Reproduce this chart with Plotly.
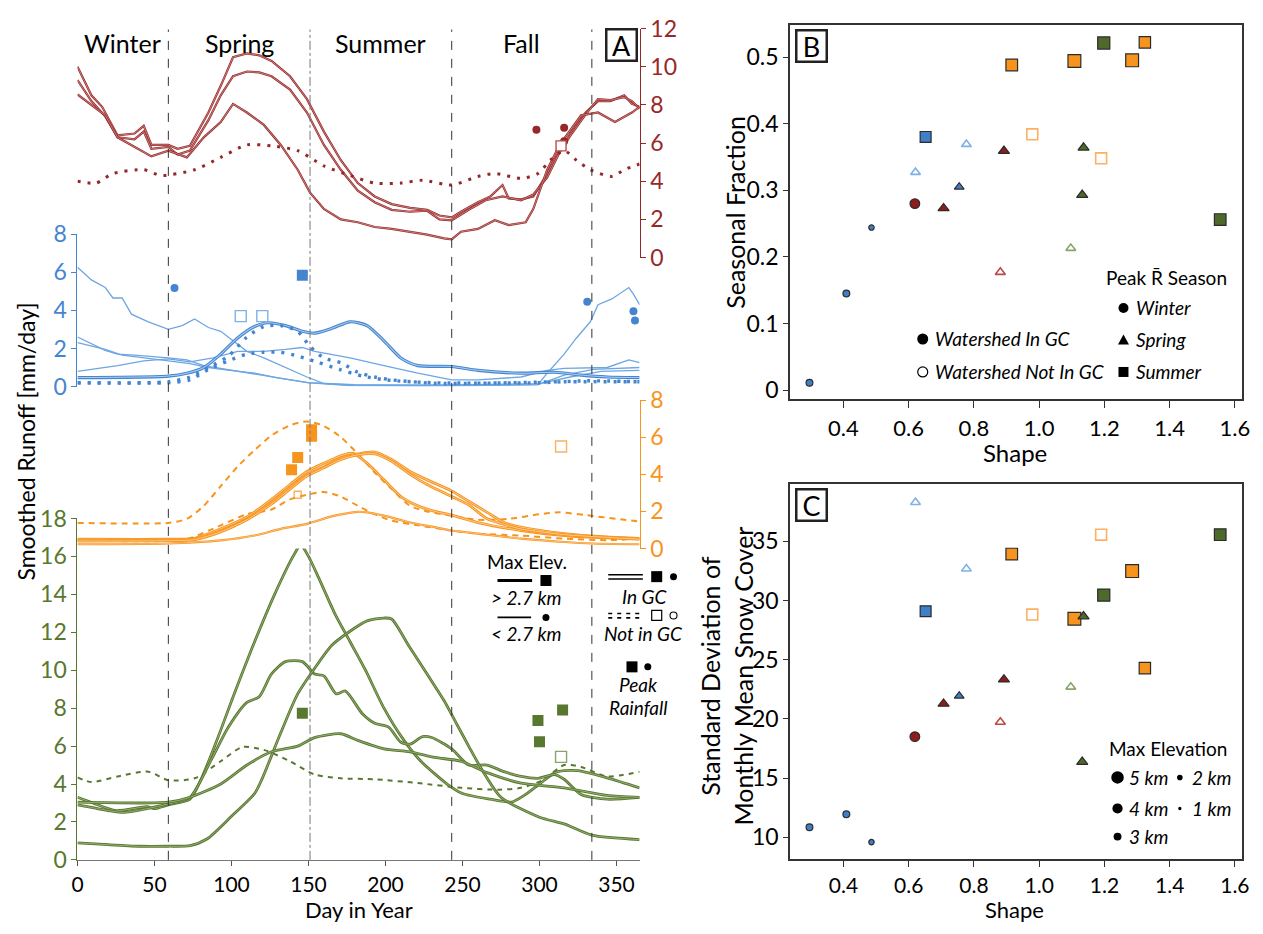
import plotly.graph_objects as go

W, H = 1263, 934
FONT = "Lato"


def px(x):
    return x / W


def py(y):
    return 1 - y / H


RED, RED_CORE = "#972828", "#dba0a0"
BLUE, BLUE_THIN, BLUE_CORE = "#4585cf", "#6ea6e2", "#a8cdf2"
ORANGE, ORANGE_CORE, ORANGE_OPEN = "#f7941d", "#fdd09a", "#fbb062"
GREEN, GREEN_CORE, GREEN_OPEN = "#58772f", "#9db57c", "#8aa56a"
RED_OPEN, BLUE_OPEN = "#b94a48", "#7fb0e6"

# ---------------- Panel A data (day in year, smoothed runoff mm/day) ----------------
season_bounds = [0, 59, 151, 243, 334]
season_names = ["Winter", "Spring", "Summer", "Fall"]
a_xticks = [0, 50, 100, 150, 200, 250, 300, 350]

red1_day = [0, 9, 16, 18, 26, 37, 43, 48, 59, 65, 73, 85, 93, 101, 110, 118, 126, 138, 149, 160, 171, 182, 193, 204, 216, 227, 235, 243, 249, 260, 268, 276, 280, 288, 296, 305, 313, 321, 330, 338, 346, 355, 360, 365]
red1_val = [10.0, 8.5, 7.9, 7.6, 6.4, 6.5, 6.9, 5.9, 5.9, 5.7, 5.85, 7.6, 9.0, 10.5, 10.7, 10.6, 10.3, 9.5, 8.3, 6.6, 5.1, 3.9, 3.2, 2.8, 2.6, 2.5, 2.2, 2.1, 2.4, 2.9, 3.2, 3.8, 3.1, 3.05, 3.2, 4.4, 5.6, 6.6, 7.6, 8.2, 8.2, 8.5, 8.05, 7.9]
red2_day = [0, 9, 18, 26, 37, 43, 48, 59, 65, 73, 85, 93, 101, 110, 118, 126, 138, 149, 160, 171, 182, 193, 204, 216, 227, 235, 243, 254, 265, 276, 288, 296, 305, 313, 321, 330, 338, 346, 355, 360, 365]
red2_val = [9.3, 8.2, 7.4, 6.3, 6.2, 6.6, 5.7, 5.8, 5.4, 5.6, 7.2, 8.5, 9.5, 9.75, 9.7, 9.5, 8.8, 7.6, 5.9, 4.6, 3.5, 2.9, 2.5, 2.4, 2.45, 2.0, 1.95, 2.5, 3.0, 3.2, 3.0, 3.3, 4.2, 5.5, 6.5, 7.5, 8.3, 8.25, 8.4, 8.2, 7.8]
red3_day = [0, 18, 26, 48, 59, 71, 82, 93, 101, 110, 121, 132, 143, 151, 160, 171, 182, 193, 204, 216, 227, 238, 243, 249, 260, 271, 280, 291, 296, 305, 313, 327, 338, 349, 360, 365]
red3_val = [8.55, 7.45, 6.3, 5.3, 5.6, 5.25, 6.3, 7.1, 8.05, 7.6, 6.95, 5.9, 4.6, 3.4, 2.55, 2.0, 1.85, 1.6, 1.5, 1.35, 1.2, 1.0, 0.95, 1.35, 1.5, 1.95, 1.7, 1.85, 2.55, 4.6, 5.9, 7.45, 7.6, 7.1, 7.6, 7.9]
redd_day = [0, 12, 23, 43, 54, 76, 93, 110, 126, 143, 160, 177, 193, 210, 224, 243, 260, 271, 288, 299, 307, 316, 324, 333, 347, 355, 365]
redd_val = [4.0, 3.9, 4.4, 4.6, 4.3, 4.6, 5.25, 5.9, 5.85, 5.6, 4.8, 4.3, 3.9, 3.9, 4.05, 3.8, 4.25, 4.4, 4.15, 4.4, 5.1, 5.6, 5.1, 4.6, 4.25, 4.6, 4.9]
red_rain_day = [298, 316, 316]
red_rain_val = [6.7, 6.8, 6.1]
red_rain_open_day = [314]
red_rain_open_val = [5.85]

blueA_day = [0, 9, 18, 23, 29, 35, 46, 59, 68, 76, 85, 93, 101, 110, 121, 132, 149, 160, 177, 220, 280, 299, 305, 316, 324, 333, 338, 347, 358, 361, 365]
blueA_val = [6.27, 5.6, 5.2, 4.65, 4.65, 3.8, 3.4, 3.0, 3.2, 3.55, 3.1, 2.9, 2.4, 1.85, 1.5, 1.1, 0.5, 0.15, 0.08, 0.05, 0.08, 0.1, 0.7, 1.7, 2.55, 3.4, 4.3, 4.6, 5.2, 4.85, 4.3]
blueB_day = [0, 18, 26, 37, 59, 71, 82, 93, 110, 121, 149, 177, 240, 299, 316, 335, 365]
blueB_val = [2.6, 1.9, 1.7, 1.65, 1.5, 1.4, 1.1, 0.95, 0.75, 0.6, 0.2, 0.05, 0.03, 0.1, 0.6, 0.9, 1.0]
blueC_day = [0, 26, 43, 59, 73, 88, 104, 121, 135, 146, 154, 177, 199, 221, 243, 260, 288, 305, 316, 344, 358, 365]
blueC_val = [0.8, 1.1, 1.35, 1.45, 1.3, 1.5, 1.85, 1.85, 1.95, 2.05, 1.85, 1.5, 1.1, 0.7, 0.35, 0.35, 0.5, 0.85, 0.95, 1.0, 1.4, 1.25]
blueE_day = [0, 18, 29, 46, 59, 73, 85, 99, 115, 130, 150, 180, 240, 300, 320, 340, 365]
blueE_val = [2.3, 1.95, 1.65, 1.5, 1.35, 1.2, 1.0, 0.85, 0.7, 0.45, 0.2, 0.1, 0.08, 0.15, 0.5, 0.8, 0.85]
blueT_day = [0, 59, 71, 82, 93, 104, 115, 124, 135, 146, 154, 165, 177, 188, 199, 210, 221, 243, 260, 288, 310, 327, 344, 365]
blueT_val = [0.47, 0.55, 0.7, 1.0, 1.7, 2.55, 3.15, 3.35, 3.2, 2.9, 2.8, 3.05, 3.4, 3.2, 2.4, 1.5, 1.1, 1.05, 0.85, 0.7, 0.75, 0.6, 0.5, 0.47]
blueD1_day = [0, 59, 73, 85, 98, 110, 121, 132, 143, 151, 160, 171, 182, 193, 204, 232, 260, 316, 365]
blueD1_val = [0.2, 0.25, 0.5, 1.0, 1.6, 2.6, 3.15, 3.2, 2.9, 2.1, 1.5, 1.25, 0.75, 0.5, 0.35, 0.17, 0.17, 0.25, 0.25]
blueD2_day = [0, 59, 73, 85, 98, 110, 121, 132, 143, 155, 170, 185, 200, 230, 300, 330, 365]
blueD2_val = [0.2, 0.2, 0.35, 0.9, 1.35, 1.7, 1.8, 1.8, 1.6, 1.3, 0.9, 0.55, 0.35, 0.2, 0.2, 0.3, 0.25]
blue_rain_day = [63, 331, 361, 362]
blue_rain_val = [5.17, 4.45, 3.95, 3.47]
blue_rain_sq_day = [146]
blue_rain_sq_val = [5.85]
blue_rain_open_day = [106, 120]
blue_rain_open_val = [3.7, 3.7]

orangeD1_day = [0, 59, 71, 82, 93, 104, 115, 126, 138, 149, 160, 171, 182, 193, 204, 216, 227, 243, 260, 280, 300, 313, 330, 350, 365]
orangeD1_val = [1.38, 1.38, 1.6, 2.3, 3.36, 4.42, 5.3, 6.1, 6.64, 6.85, 6.6, 6.0, 5.1, 4.1, 3.2, 2.3, 2.0, 1.77, 1.55, 1.6, 1.85, 1.95, 1.8, 1.6, 1.45]
orangeD2_day = [0, 70, 93, 110, 126, 138, 149, 160, 171, 182, 193, 204, 221, 243, 260, 288, 316, 344, 365]
orangeD2_val = [0.45, 0.5, 1.25, 1.85, 2.1, 2.65, 2.9, 3.05, 2.8, 2.3, 1.85, 1.5, 1.25, 0.97, 0.8, 0.7, 0.53, 0.45, 0.53]
orangeA_day = [0, 59, 76, 93, 110, 126, 138, 149, 160, 171, 179, 188, 199, 210, 221, 232, 243, 260, 288, 316, 344, 365]
orangeA_val = [0.5, 0.5, 0.55, 1.06, 1.7, 2.65, 3.45, 4.15, 4.6, 5.0, 5.13, 4.6, 3.7, 2.8, 2.3, 2.0, 1.8, 1.4, 0.97, 0.7, 0.57, 0.53]
orangeB_day = [0, 59, 76, 93, 110, 126, 138, 149, 160, 171, 182, 193, 204, 216, 227, 243, 254, 266, 277, 288, 316, 344, 365]
orangeB_val = [0.45, 0.45, 0.5, 0.95, 1.6, 2.5, 3.3, 3.98, 4.4, 4.87, 5.1, 5.2, 4.8, 4.15, 3.7, 3.1, 2.55, 1.95, 1.4, 1.15, 0.8, 0.62, 0.55]
orangeC_day = [0, 59, 76, 93, 110, 126, 138, 149, 160, 171, 182, 193, 204, 216, 227, 243, 254, 266, 277, 288, 316, 344, 365]
orangeC_val = [0.4, 0.42, 0.48, 0.9, 1.55, 2.4, 3.2, 3.9, 4.35, 4.8, 5.05, 5.1, 4.7, 4.0, 3.45, 2.8, 2.35, 1.6, 1.3, 1.05, 0.75, 0.6, 0.5]
orangeT_day = [0, 59, 93, 115, 132, 149, 165, 182, 188, 199, 216, 232, 243, 260, 288, 316, 334, 365]
orangeT_val = [0.23, 0.27, 0.44, 0.7, 1.06, 1.33, 1.73, 1.98, 1.95, 1.77, 1.4, 1.15, 0.97, 0.8, 0.53, 0.35, 0.27, 0.23]
orange_rain_day = [139, 143, 152, 152]
orange_rain_val = [4.25, 4.9, 6.4, 6.05]
orange_rain_open_day = [314]
orange_rain_open_val = [5.5]
orange_rain_hidden_day = [143]
orange_rain_hidden_val = [2.9]

green1_day = [0, 10, 25, 45, 50, 59, 73, 80, 90, 102, 115, 128, 140, 145, 150, 157, 167, 177, 187, 199, 212, 223, 240, 250, 268, 282, 290, 300, 310, 316, 325, 345, 365]
green1_val = [3.3, 3.0, 2.6, 2.8, 2.7, 2.9, 3.2, 4.2, 6.2, 8.8, 11.5, 14.0, 16.0, 16.6, 16.0, 14.8, 13.0, 11.5, 10.0, 8.0, 6.3, 5.2, 4.0, 3.5, 3.2, 3.05, 3.4, 4.0, 4.6, 4.7, 4.7, 4.3, 3.8]
green2_day = [0, 10, 20, 30, 45, 59, 73, 87, 98, 110, 118, 126, 135, 146, 154, 160, 168, 174, 185, 193, 202, 210, 216, 224, 230, 243, 254, 266, 277, 288, 299, 310, 316, 327, 344, 365]
green2_val = [2.9, 2.75, 2.6, 2.5, 2.7, 2.95, 3.3, 5.3, 7.0, 8.3, 8.6, 9.8, 10.45, 10.45, 9.8, 9.7, 8.75, 8.9, 7.7, 7.2, 7.0, 6.2, 6.1, 6.5, 6.45, 5.85, 5.0, 5.0, 4.65, 4.4, 4.3, 4.5, 4.25, 3.45, 3.2, 3.3]
green3_day = [0, 20, 40, 59, 73, 84, 100, 115, 120, 132, 143, 154, 165, 176, 188, 199, 204, 215, 227, 238, 246, 254, 263, 275, 300, 316, 334, 365]
green3_val = [0.9, 0.8, 0.72, 0.72, 0.75, 1.1, 2.3, 3.5, 4.3, 6.7, 8.75, 10.1, 11.3, 12.0, 12.6, 12.75, 12.7, 11.3, 9.8, 8.4, 7.2, 6.0, 4.7, 3.3, 2.25, 1.9, 1.3, 1.07]
green4_day = [0, 59, 73, 93, 110, 126, 143, 154, 171, 182, 199, 216, 232, 249, 266, 288, 316, 344, 365]
green4_val = [3.04, 3.04, 3.3, 4.0, 5.0, 5.7, 6.0, 6.45, 6.65, 6.3, 5.85, 5.7, 5.4, 5.2, 4.6, 4.05, 3.8, 3.4, 3.3]
greenD_day = [0, 9, 26, 46, 59, 76, 93, 107, 121, 138, 154, 171, 193, 221, 249, 274, 288, 302, 316, 327, 344, 365]
greenD_val = [4.35, 4.1, 4.4, 4.65, 4.2, 4.3, 5.2, 5.95, 5.8, 5.2, 4.5, 4.3, 4.25, 4.05, 3.8, 3.7, 3.8, 4.2, 5.0, 4.9, 4.4, 4.65]
green_rain_day = [146, 299, 300, 315]
green_rain_val = [7.73, 7.35, 6.23, 7.9]
green_rain_open_day = [314]
green_rain_open_val = [5.43]

# ---------------- Panels B & C data (one entry per watershed) ----------------
ws_group = ["blue", "blue", "blue", "red", "blue", "blue", "red", "blue", "blue", "red", "red",
            "orange", "orange", "green", "orange", "green", "green", "orange", "green", "orange", "orange", "green"]
ws_season = ["Winter", "Winter", "Winter", "Winter", "Spring", "Summer", "Spring", "Spring", "Spring", "Spring", "Spring",
             "Summer", "Summer", "Spring", "Summer", "Spring", "Spring", "Summer", "Summer", "Summer", "Summer", "Summer"]
ws_in_gc = [1, 1, 1, 1, 0, 1, 1, 1, 0, 0, 1, 1, 0, 0, 1, 1, 1, 0, 1, 1, 1, 1]
ws_shape = [0.296, 0.409, 0.486, 0.619, 0.621, 0.652, 0.707, 0.755, 0.777, 0.881, 0.892,
            0.916, 0.979, 1.097, 1.108, 1.132, 1.136, 1.190, 1.198, 1.285, 1.324, 1.555]
ws_seasonal_fraction = [0.011, 0.145, 0.244, 0.280, 0.327, 0.380, 0.273, 0.305, 0.369, 0.177, 0.359,
                        0.488, 0.384, 0.213, 0.494, 0.293, 0.364, 0.348, 0.521, 0.495, 0.522, 0.256]
ws_snow_sd = [10.85, 11.94, 9.59, 18.5, 38.3, 29.1, 21.28, 21.94, 32.68, 19.73, 23.33,
              33.93, 28.82, 22.70, 28.47, 16.37, 28.66, 35.57, 30.46, 32.49, 24.29, 35.57]
ws_max_elev_km = [1.8, 1.8, 1.2, 3.0, 2.5, 3.5, 3.0, 2.5, 2.5, 2.6, 3.0,
                  3.8, 3.5, 2.5, 4.3, 3.0, 3.0, 3.5, 4.0, 4.3, 3.7, 3.8]
b_xticks = [0.4, 0.6, 0.8, 1.0, 1.2, 1.4, 1.6]
b_yticks = [0, 0.1, 0.2, 0.3, 0.4, 0.5]
c_yticks = [10, 15, 20, 25, 30, 35]
elev_legend_km = [5, 4, 3, 2, 1]

fill_col = {"red": "#8e1c1c", "blue": "#3f7fc8", "orange": ORANGE, "green": "#4e6a2a"}
open_col = {"red": RED_OPEN, "blue": BLUE_OPEN, "orange": ORANGE_OPEN, "green": GREEN_OPEN}
season_symbol = {"Winter": "circle", "Spring": "triangle-up", "Summer": "square"}

fig = go.Figure()


def add_line(days, vals, yaxis, color, width, core=None, dash=None, shape="spline"):
    fig.add_trace(go.Scatter(x=days, y=vals, xaxis="x", yaxis=yaxis, mode="lines",
                             line=dict(color=color, width=width, dash=dash, shape=shape, smoothing=0.7),
                             hoverinfo="skip", showlegend=False))
    if core:
        fig.add_trace(go.Scatter(x=days, y=vals, xaxis="x", yaxis=yaxis, mode="lines",
                                 line=dict(color=core, width=max(0.6, width * 0.32), shape=shape, smoothing=0.7),
                                 hoverinfo="skip", showlegend=False))


def add_pts(days, vals, yaxis, symbol, color, size, open_=False, lc=None):
    fig.add_trace(go.Scatter(x=days, y=vals, xaxis="x", yaxis=yaxis, mode="markers",
                             marker=dict(symbol=symbol, size=size, opacity=1, color="white" if open_ else color,
                                         line=dict(color=lc or color, width=1.4 if open_ else 0)),
                             hoverinfo="skip", showlegend=False))


# red (top)
for d, v in [(red1_day, red1_val), (red2_day, red2_val), (red3_day, red3_val)]:
    add_line(d, v, "y4", RED, 2.2, core=RED_CORE, shape="linear")
add_line(redd_day, redd_val, "y4", RED, 3, dash="3px,7px")
add_pts(red_rain_day, red_rain_val, "y4", "circle", RED, 8)
add_pts(red_rain_open_day, red_rain_open_val, "y4", "square", RED, 10, open_=True, lc=RED_OPEN)

# blue
for d, v in [(blueA_day, blueA_val), (blueB_day, blueB_val), (blueC_day, blueC_val), (blueE_day, blueE_val)]:
    add_line(d, v, "y2", BLUE_THIN, 1.3, shape="linear")
add_line(blueT_day, blueT_val, "y2", BLUE, 3.2, core=BLUE_CORE)
add_line(blueD1_day, blueD1_val, "y2", BLUE, 3.4, dash="3px,7px")
add_line(blueD2_day, blueD2_val, "y2", BLUE, 3.4, dash="3px,7px")
add_pts(blue_rain_day, blue_rain_val, "y2", "circle", BLUE, 8)
add_pts(blue_rain_sq_day, blue_rain_sq_val, "y2", "square", BLUE, 11)
add_pts(blue_rain_open_day, blue_rain_open_val, "y2", "square", BLUE, 11, open_=True, lc=BLUE_OPEN)

# orange
add_pts(orange_rain_hidden_day, orange_rain_hidden_val, "y3", "square", ORANGE, 7, open_=True, lc=ORANGE_OPEN)
add_line(orangeD1_day, orangeD1_val, "y3", ORANGE, 2, dash="6px,5px")
add_line(orangeD2_day, orangeD2_val, "y3", ORANGE, 2, dash="6px,5px")
for d, v in [(orangeA_day, orangeA_val), (orangeB_day, orangeB_val), (orangeC_day, orangeC_val)]:
    add_line(d, v, "y3", ORANGE, 2.8, core=ORANGE_CORE)
add_line(orangeT_day, orangeT_val, "y3", ORANGE, 2.2, core=ORANGE_CORE)
add_pts(orange_rain_day, orange_rain_val, "y3", "square", ORANGE, 11)
add_pts(orange_rain_open_day, orange_rain_open_val, "y3", "square", ORANGE, 11, open_=True, lc=ORANGE_OPEN)

# green
add_line(greenD_day, greenD_val, "y", GREEN, 2, dash="5px,5px")
for d, v in [(green1_day, green1_val), (green2_day, green2_val), (green3_day, green3_val), (green4_day, green4_val)]:
    add_line(d, v, "y", GREEN, 2.8, core=GREEN_CORE)
add_pts(green_rain_day, green_rain_val, "y", "square", "#58772f", 11)
add_pts(green_rain_open_day, green_rain_open_val, "y", "square", GREEN, 11, open_=True, lc=GREEN_OPEN)

# ---------------- Panels B & C markers ----------------
sym = [season_symbol[s] for s in ws_season]
fc = [fill_col[g] if gc else "white" for g, gc in zip(ws_group, ws_in_gc)]
lc = ["#2b2b2b" if gc else open_col[g] for g, gc in zip(ws_group, ws_in_gc)]
lw = [1.2 if gc else 1.6 for gc in ws_in_gc]
sz = [2.4 * km + 2.5 for km in ws_max_elev_km]
for xa, ya, yv in [("x2", "y5", ws_seasonal_fraction), ("x3", "y6", ws_snow_sd)]:
    fig.add_trace(go.Scatter(x=ws_shape, y=yv, xaxis=xa, yaxis=ya, mode="markers",
                             marker=dict(symbol=sym, size=sz, color=fc, opacity=1, line=dict(color=lc, width=lw)),
                             hoverinfo="skip", showlegend=False, cliponaxis=False))

# ---------------- Axes ----------------
tick_font_bottom = dict(family=FONT, size=21)
tick_font = dict(family=FONT, size=22)
A_X = [px(72.3), px(640.7)]
fig.update_layout(
    width=W, height=H, margin=dict(l=0, r=0, t=0, b=0),
    paper_bgcolor="white", plot_bgcolor="white",
    font=dict(family=FONT, color="black"),
    showlegend=False,
    xaxis=dict(domain=A_X, range=[0, 365], anchor="y", tickvals=a_xticks, ticks="outside", ticklen=5,
               ticklabelstandoff=1, tickcolor="#555", showline=True, linecolor="#777", linewidth=1.3,
               showgrid=False, zeroline=False, tickfont=tick_font_bottom),
    yaxis=dict(domain=[py(871), py(519)], range=[0, 18], anchor="x", dtick=2, ticks="outside", ticklen=5,
               tickcolor=GREEN, showline=True, linecolor=GREEN, linewidth=1.3, showgrid=False, zeroline=False,
               tickfont=dict(family=FONT, size=23, color=GREEN)),
    yaxis2=dict(domain=[py(383), py(226)], range=[0, 8], anchor="x", dtick=2, ticks="outside", ticklen=5,
                tickcolor=BLUE, showline=True, linecolor=BLUE, linewidth=1.3, showgrid=False, zeroline=False,
                tickfont=dict(family=FONT, size=23, color=BLUE)),
    yaxis3=dict(domain=[py(550), py(397)], range=[0, 8], anchor="x", side="right", dtick=2, ticks="outside",
                ticklen=5, tickcolor=ORANGE, showline=True, linecolor=ORANGE, linewidth=1.3, showgrid=False,
                zeroline=False, tickfont=dict(family=FONT, size=23, color=ORANGE)),
    yaxis4=dict(domain=[py(250), py(14)], range=[0, 12], anchor="x", side="right", dtick=2, ticks="outside",
                ticklen=5, tickcolor=RED, showline=True, linecolor=RED, linewidth=1.3, showgrid=False,
                zeroline=False, tickfont=dict(family=FONT, size=23, color=RED)),
)
box = dict(showline=True, mirror=True, linecolor="#333", linewidth=1.5, ticks="outside",
           tickcolor="#333", showgrid=False, zeroline=False)
BC_X = [px(792.7), px(1249.6)]
fig.update_layout(
    xaxis2=dict(domain=BC_X, range=[0.236, 1.621], anchor="y5", tickvals=b_xticks, ticklen=7,
                ticklabelstandoff=2, ticktext=[f"{v:.1f}" for v in b_xticks], tickfont=tick_font, **box),
    yaxis5=dict(domain=[py(396), py(10)], range=[-0.0135, 0.5485], anchor="x2", tickvals=b_yticks, ticklen=5,
                ticktext=[("0" if v == 0 else f"{v:.1f}") for v in b_yticks],
                tickfont=dict(family=FONT, size=23), **box),
    xaxis3=dict(domain=BC_X, range=[0.236, 1.621], anchor="y6", tickvals=b_xticks, ticklen=6,
                ticklabelstandoff=1, ticktext=[f"{v:.1f}" for v in b_xticks], tickfont=tick_font_bottom, **box),
    yaxis6=dict(domain=[py(870), py(484)], range=[8.17, 39.81], anchor="x3", tickvals=c_yticks, ticklen=5,
                tickfont=dict(family=FONT, size=23), **box),
)

# season dividers
for i, d in enumerate(season_bounds[1:]):
    fig.add_shape(type="line", xref="x", yref="paper", x0=d, x1=d, y0=py(871), y1=py(15),
                  line=dict(color="#777" if i == 1 else "#333", width=1,
                            dash="dashdot" if i == 1 else "dash"))

# ---------------- Text ----------------
def text(x, y, s, size=19, color="black", italic=False, xanchor="center", angle=0):
    fig.add_annotation(x=px(x), y=py(y), xref="paper", yref="paper", text=f"<i>{s}</i>" if italic else s,
                       showarrow=False, font=dict(size=size, color=color, family=FONT), xanchor=xanchor,
                       yanchor="middle", textangle=angle)


for i, name in enumerate(season_names):
    mid = (season_bounds[i] + season_bounds[i + 1]) / 2
    fig.add_annotation(x=mid, y=py(29), xref="x", yref="paper", text=name, showarrow=False,
                       font=dict(size=25, family=FONT), xanchor="center", yanchor="middle")

for lbl, cx, cy in [("A", 622, 31), ("B", 815, 31.5), ("C", 815, 505.5)]:
    fig.add_annotation(x=px(cx), y=py(cy), xref="paper", yref="paper", text=lbl, showarrow=False,
                       font=dict(size=27, family=FONT), bordercolor="#222", borderwidth=2.5, bgcolor="white",
                       width=26, height=27, borderpad=1, xanchor="center", yanchor="middle")

text(20, 440, "Smoothed Runoff [mm/day]", size=23, angle=-90)
text(357, 922, "Day in Year", size=22)
text(737, 203, "Seasonal Fraction", size=25, angle=-90)
text(729, 681, "Standard Deviation of<br>Monthly Mean Snow Cover", size=25, angle=-90)
text(1020, 451, "Shape", size=24)
text(1020, 922, "Shape", size=22)


def glyph(kind, cx, cy, s, fill, line_color=None, lw=0):
    common = dict(xref="paper", yref="paper", xsizemode="pixel", ysizemode="pixel",
                  xanchor=px(cx), yanchor=py(cy), fillcolor=fill,
                  line=dict(color=line_color or fill, width=lw))
    if kind == "circle":
        fig.add_shape(type="circle", x0=-s / 2, x1=s / 2, y0=-s / 2, y1=s / 2, **common)
    elif kind == "square":
        fig.add_shape(type="rect", x0=-s / 2, x1=s / 2, y0=-s / 2, y1=s / 2, **common)
    else:
        fig.add_shape(type="path", path=f"M {-s/2},{-s*0.42} L {s/2},{-s*0.42} L 0,{s*0.5} Z", **common)


def seg(x0, x1, y, w=1.5, dash=None, color="black"):
    fig.add_shape(type="line", xref="paper", yref="paper", x0=px(x0), x1=px(x1), y0=py(y), y1=py(y),
                  line=dict(color=color, width=w, dash=dash))


# Panel A legend
text(527, 563, "Max Elev.", size=19)
seg(497, 532, 583, w=3.2)
glyph("square", 546, 583, 11, "black")
text(526, 600, "> 2.7 km", size=19, italic=True)
seg(497, 531, 621, w=1.6)
glyph("circle", 546, 621, 7, "black")
text(526, 638, "< 2.7 km", size=19, italic=True)

seg(609, 644, 577, w=1.4)
seg(609, 644, 581.5, w=1.4)
glyph("square", 658, 579, 11, "black")
glyph("circle", 675, 579, 7, "black")
text(646, 599, "In GC", size=19, italic=True)
seg(609, 644, 617, w=1.6, dash="4px,5px")
seg(609, 644, 621.5, w=1.6, dash="4px,5px")
glyph("square", 658, 619, 10, "white", "black", 1.2)
glyph("circle", 675, 619, 7, "white", "black", 1.1)
text(645, 638, "Not in GC", size=19, italic=True)
glyph("square", 633, 672, 11, "black")
glyph("circle", 649, 672, 7, "black")
text(640, 690, "Peak", size=19, italic=True)
text(640, 714, "Rainfall", size=19, italic=True)

# Panel B legend
text(1174, 271, "Peak R\u0304 Season", size=19)
for kind, name, yy in [("circle", "Winter", 302), ("triangle", "Spring", 335), ("square", "Summer", 368)]:
    glyph(kind, 1130, yy, 10 if kind != "triangle" else 11, "black")
    text(1141, yy, name, size=19, italic=True, xanchor="left")
glyph("circle", 927, 334, 11, "black")
text(937, 334, "Watershed In GC", size=19, italic=True, xanchor="left")
glyph("circle", 927, 368, 10, "white", "black", 1.2)
text(937, 368, "Watershed Not In GC", size=19, italic=True, xanchor="left")

# Panel C legend
text(1175, 756, "Max Elevation", size=19)
elev_pos = {5: (1124, 786), 4: (1124, 818), 3: (1124, 847), 2: (1187, 786), 1: (1187, 818)}
for km in elev_legend_km:
    cx, cy = elev_pos[km]
    glyph("circle", cx, cy, 2.3 * km + 1.0, "black")
    text(cx + 10, cy, f"{km} km", size=19, italic=True, xanchor="left")

fig.write_html("out.html")
